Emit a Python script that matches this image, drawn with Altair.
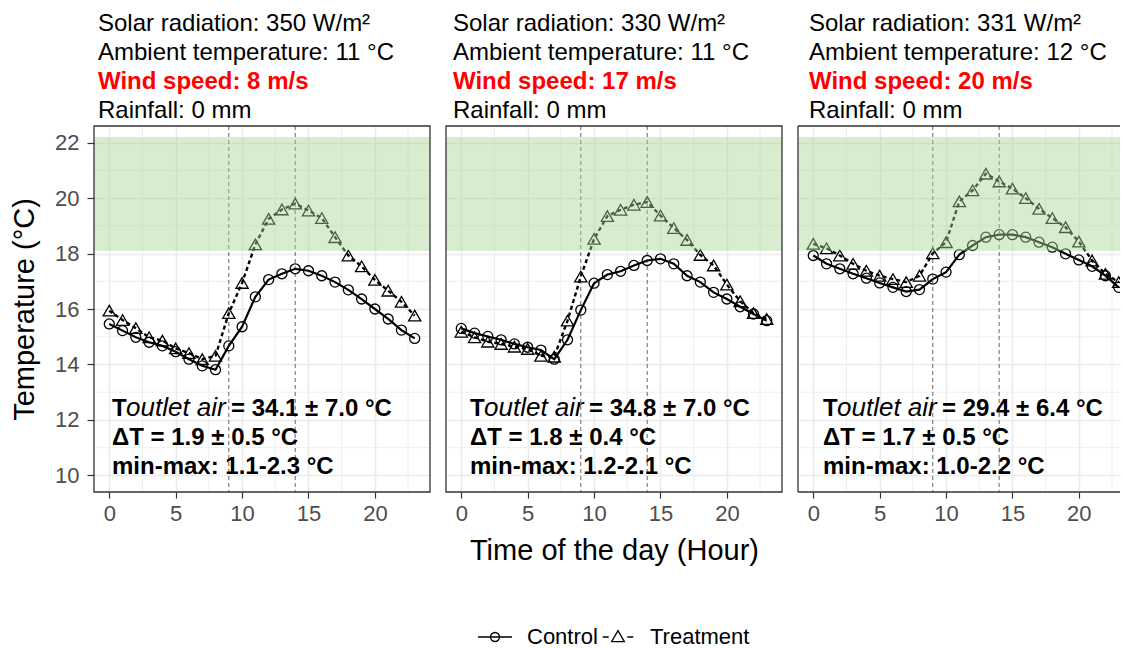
import altair as alt
import pandas as pd

# ---------------- data ----------------
hours = list(range(24))

control_1 = [15.46, 15.22, 14.98, 14.80, 14.67, 14.46, 14.19, 13.95, 13.81, 14.67, 15.36, 16.44,
             17.06, 17.27, 17.45, 17.38, 17.20, 16.97, 16.69, 16.36, 16.00, 15.64, 15.24, 14.94]
treatment_1 = [15.94, 15.60, 15.31, 14.98, 14.86, 14.58, 14.41, 14.19, 14.31, 15.85, 16.94, 18.33,
               19.25, 19.59, 19.80, 19.55, 19.28, 18.59, 17.93, 17.54, 17.05, 16.66, 16.26, 15.76]
control_2 = [15.30, 15.13, 15.01, 14.89, 14.74, 14.62, 14.52, 14.19, 14.89, 15.96, 16.93, 17.24,
             17.36, 17.57, 17.75, 17.81, 17.63, 17.20, 16.97, 16.60, 16.36, 16.08, 15.82, 15.58]
treatment_2 = [15.18, 14.98, 14.82, 14.74, 14.64, 14.56, 14.31, 14.28, 15.58, 17.17, 18.53, 19.35,
               19.58, 19.76, 19.86, 19.37, 18.92, 18.49, 17.95, 17.57, 16.88, 16.28, 15.85, 15.64]
control_3 = [17.93, 17.63, 17.45, 17.27, 17.11, 16.94, 16.78, 16.63, 16.70, 17.08, 17.33, 17.96,
             18.29, 18.59, 18.68, 18.68, 18.59, 18.41, 18.23, 17.99, 17.77, 17.54, 17.20, 16.78]
treatment_3 = [18.35, 18.19, 17.93, 17.63, 17.38, 17.20, 17.08, 16.97, 17.20, 18.01, 18.41, 19.88,
               20.28, 20.88, 20.60, 20.34, 20.00, 19.61, 19.28, 18.95, 18.43, 17.75, 17.27, 16.97]

solar = ["350", "330", "331"]
ambient = ["11", "11", "12"]
wind = ["8", "17", "20"]
rain = ["0", "0", "0"]
t_outlet = ["34.1 ± 7.0", "34.8 ± 7.0", "29.4 ± 6.4"]
delta_t = ["1.9 ± 0.5", "1.8 ± 0.4", "1.7 ± 0.5"]
min_max = ["1.1-2.3", "1.2-2.1", "1.0-2.2"]

groups = ["Control", "Treatment"]
vlines = [9, 14]
band = [18.1, 22.2]
x_major = [0, 5, 10, 15, 20]
x_minor = [2.5, 7.5, 12.5, 17.5, 22.5]
y_major = [10, 12, 14, 16, 18, 20, 22]
y_minor = [11, 13, 15, 17, 19, 21]

# ---------------- style ----------------
FONT = "Liberation Sans"
H = 366
W = 336
W_CUT = 322
XDOM = [-1.15, 24.15]
XDOM_CUT = [-1.15, 23.1]
YDOM = [9.4, 22.6]
GRID = "#EBEBEB"
BORDER = "#333333"

CTRL_PATH = "M-2,0L2,0M-0.53,0A0.53,0.53,0,1,1,0.53,0A0.53,0.53,0,1,1,-0.53,0"
TRT_PATH = "M-1.8,0L-1.1,0M1.1,0L1.8,0M0,-0.75L0.75,0.55L-0.75,0.55Z"


def text_layer(s, x, y, size=24, weight="normal", style="normal", color="black"):
    return alt.Chart(pd.DataFrame({"t": [s]})).mark_text(
        align="left", baseline="alphabetic", font=FONT, fontSize=size,
        fontWeight=weight, fontStyle=style, color=color
    ).encode(text="t:N", x=alt.value(x), y=alt.value(y))


def panel(i, ctrl, trt, width, xdom, show_y, xtitle, hx, ax, cut, legend):
    df = pd.DataFrame({
        "hour": hours + hours,
        "temp": ctrl + trt,
        "group": ["Control"] * len(hours) + ["Treatment"] * len(hours),
    })
    xs = alt.Scale(domain=xdom, nice=False, zero=False)
    ys = alt.Scale(domain=YDOM, nice=False, zero=False)
    xaxis = alt.Axis(values=x_major, title=xtitle, grid=True, gridColor=GRID, gridWidth=1.6,
                     domain=False, tickColor=BORDER, tickSize=6, tickWidth=1.2,
                     labelFontSize=22, labelFont=FONT, labelColor="#4D4D4D", labelPadding=5,
                     labelFlush=False, labelOverlap=False,
                     titleFontSize=29, titleFont=FONT, titleFontWeight="normal",
                     titleColor="black", titlePadding=12)
    if show_y:
        yaxis = alt.Axis(values=y_major, title="Temperature (°C)", grid=True, gridColor=GRID,
                         gridWidth=1.6, domain=False, tickColor=BORDER, tickSize=7, tickWidth=1.2,
                         labelFontSize=22, labelFont=FONT, labelColor="#4D4D4D", labelPadding=8,
                         labelFlush=False, labelOverlap=False,
                         titleFontSize=29, titleFont=FONT, titleFontWeight="normal",
                         titleColor="black", titlePadding=15)
    else:
        yaxis = alt.Axis(values=y_major, title=None, grid=True, gridColor=GRID, gridWidth=1.6,
                         domain=False, ticks=False, labels=False)

    def X(f):
        return alt.X(f, type="quantitative", scale=xs, axis=xaxis)

    def Y(f):
        return alt.Y(f, type="quantitative", scale=ys, axis=yaxis)

    layers = []
    # minor grid
    layers.append(alt.Chart(pd.DataFrame({"xm": x_minor})).mark_rule(
        color=GRID, strokeWidth=0.8, clip=True).encode(x=X("xm"), y=alt.value(0), y2=alt.value(H)))
    layers.append(alt.Chart(pd.DataFrame({"ym": y_minor})).mark_rule(
        color=GRID, strokeWidth=0.8).encode(y=Y("ym"), x=alt.value(0), x2=alt.value(width)))

    base = alt.Chart(df).encode(x=X("hour"), y=Y("temp"))
    c = base.transform_filter("datum.group == 'Control'")
    t = base.transform_filter("datum.group == 'Treatment'")
    layers.append(c.mark_line(color="black", strokeWidth=2.2, clip=True))
    layers.append(t.mark_line(color="black", strokeWidth=2.4, strokeDash=[4, 3], clip=True))
    layers.append(c.mark_point(shape="circle", size=100, filled=False, color="black",
                               strokeWidth=1.3, opacity=1, clip=True))
    layers.append(t.mark_point(shape="triangle-up", size=150, filled=False, color="black",
                               strokeWidth=1.3, opacity=1, clip=True))

    # vertical reference lines
    layers.append(alt.Chart(pd.DataFrame({"vx": vlines})).mark_rule(
        color="#222222", strokeWidth=0.7, strokeDash=[4, 3]).encode(
        x=X("vx"), y=alt.value(0), y2=alt.value(H)))

    # comfort band (drawn on top, semi-transparent)
    layers.append(alt.Chart(pd.DataFrame({"lo": [band[0]], "hi": [band[1]]})).mark_rect(
        color="#a8d596", opacity=0.45).encode(
        y=Y("lo"), y2="hi", x=alt.value(0), x2=alt.value(width)))

    # statistics text
    layers.append(text_layer("T", ax, 290, weight="bold"))
    layers.append(text_layer("outlet air", ax + 14, 290, size=26, style="italic"))
    layers.append(text_layer("= " + t_outlet[i] + " °C", ax + 119, 290, weight="bold"))
    layers.append(text_layer("ΔT = " + delta_t[i] + " °C", ax, 319, weight="bold"))
    layers.append(text_layer("min-max: " + min_max[i] + " °C", ax, 348, weight="bold"))

    # header text
    layers.append(text_layer("Solar radiation: " + solar[i] + " W/m²", hx, -95))
    layers.append(text_layer("Ambient temperature: " + ambient[i] + " °C", hx, -66))
    layers.append(text_layer("Wind speed: " + wind[i] + " m/s", hx, -37.5, weight="bold",
                             color="#FF0000"))
    layers.append(text_layer("Rainfall: " + rain[i] + " mm", hx, -8.5))

    # panel border
    one = pd.DataFrame({"a": [0]})
    if cut:
        layers.append(alt.Chart(one).mark_rule(color=BORDER, strokeWidth=1.3).encode(
            x=alt.value(0), y=alt.value(0), y2=alt.value(H)))
        layers.append(alt.Chart(one).mark_rule(color=BORDER, strokeWidth=1.3).encode(
            x=alt.value(0), x2=alt.value(width), y=alt.value(0)))
        layers.append(alt.Chart(one).mark_rule(color=BORDER, strokeWidth=1.3).encode(
            x=alt.value(0), x2=alt.value(width), y=alt.value(H)))
    else:
        layers.append(alt.Chart(one).mark_rect(fillOpacity=0, stroke=BORDER, strokeWidth=1.3).encode(
            x=alt.value(0), x2=alt.value(width), y=alt.value(0), y2=alt.value(H)))

    if legend:
        layers.append(alt.Chart(df).transform_filter("false").mark_point(
            filled=False, color="black", strokeWidth=1.3, opacity=1).encode(
            x=X("hour"), y=Y("temp"),
            shape=alt.Shape("group:N",
                            scale=alt.Scale(domain=groups, range=[CTRL_PATH, TRT_PATH]),
                            legend=alt.Legend(orient="none", legendX=390, legendY=500,
                                              direction="horizontal", title=None,
                                              labelFontSize=22, labelFont=FONT,
                                              labelColor="black", symbolSize=289,
                                              symbolStrokeColor="black",
                                              symbolFillColor="transparent",
                                              symbolStrokeWidth=1.3, labelOffset=21,
                                              columnPadding=2, padding=0))))

    return alt.layer(*layers).properties(width=width, height=H)


p1 = panel(0, control_1, treatment_1, W, XDOM, True, None, 4, 18, False, True)
p2 = panel(1, control_2, treatment_2, W, XDOM, False, "Time of the day (Hour)", 7, 24, False, False)
p3 = panel(2, control_3, treatment_3, W_CUT, XDOM_CUT, False, None, 11, 25, True, False)

chart = alt.hconcat(p1, p2, p3, spacing=16, bounds="flush").properties(
    padding={"left": 10, "top": 12, "right": 0, "bottom": 0}
).configure_view(stroke=None).resolve_scale(x="independent", y="independent")

chart.save("out.html", embed_options={"renderer": "svg", "actions": False})
